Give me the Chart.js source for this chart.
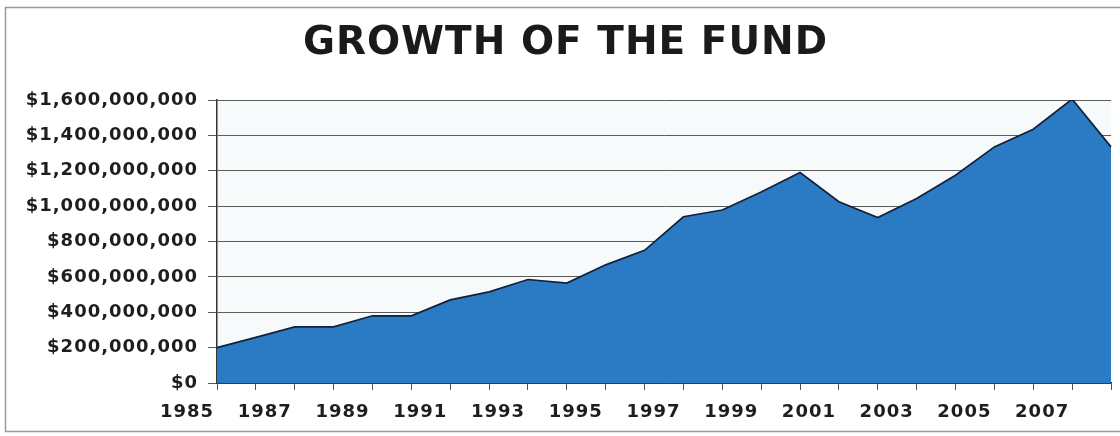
<!DOCTYPE html>
<html>
<head>
<meta charset="utf-8">
<script src="https://cdn.jsdelivr.net/npm/chart.js@4"></script>
<style>
html,body{margin:0;padding:0;background:#fff;}
#wrap{width:1120px;height:436px;position:relative;}
</style>
</head>
<body>
<div id="wrap"><canvas id="c" width="1120" height="436"></canvas></div>
<script>
const years = ['1985','1986','1987','1988','1989','1990','1991','1992','1993','1994','1995','1996','1997','1998','1999','2000','2001','2002','2003','2004','2005','2006','2007','2008'];
const fundValues = [200000000,258000000,317000000,317000000,380000000,380000000,470000000,515000000,585000000,565000000,668000000,750000000,940000000,978000000,1080000000,1190000000,1025000000,935000000,1043000000,1175000000,1335000000,1435000000,1605000000,1335000000];
const yTickMax = 1600000000;
const yTickStep = 200000000;
const titleText = 'GROWTH OF THE FUND';

const framePlugin = {
  id: 'frame',
  beforeLayout(chart) {
    chart.ctx.letterSpacing = '1px';
  },
  beforeDraw(chart) {
    const {ctx, chartArea} = chart;
    ctx.letterSpacing = '1px';
    ctx.save();
    ctx.fillStyle = '#ffffff';
    ctx.fillRect(0, 0, chart.width, chart.height);
    ctx.fillStyle = '#f7fafb';
    ctx.fillRect(chartArea.left, chartArea.top, chartArea.right - chartArea.left, chartArea.bottom - chartArea.top);
    ctx.strokeStyle = '#9a9a9a';
    ctx.lineWidth = 1.5;
    ctx.strokeRect(5.5, 7.5, chart.width - 4, chart.height - 12);
    ctx.restore();
  }
};

new Chart(document.getElementById('c'), {
  type: 'line',
  data: {
    labels: years,
    datasets: [{
      label: 'Fund',
      data: fundValues,
      fill: 'origin',
      backgroundColor: '#2a7bc3',
      borderColor: '#13203a',
      borderWidth: 1.7,
      pointRadius: 0,
      tension: 0
    }]
  },
  plugins: [framePlugin],
  options: {
    responsive: false,
    animation: false,
    devicePixelRatio: 1,
    layout: { padding: { left: 20, right: 9, top: 0, bottom: 10 } },
    plugins: {
      legend: { display: false },
      tooltip: { enabled: false },
      title: {
        display: true,
        text: titleText,
        color: '#1a1a1a',
        font: { family: 'DejaVu Sans', weight: 'bold', size: 39, lineHeight: 1.0 },
        padding: { top: 24, bottom: 37 }
      }
    },
    scales: {
      x: {
        type: 'category',
        offset: false,
        grid: { display: true, drawOnChartArea: false, drawTicks: true, tickLength: 7, color: '#555', lineWidth: 1 },
        border: { display: true, color: '#1a1a1a', width: 1.5 },
        ticks: {
          autoSkip: false,
          maxRotation: 0,
          minRotation: 0,
          labelOffset: -30,
          padding: 12,
          color: '#1e1e1e',
          font: { family: 'DejaVu Sans', weight: 'bold', size: 18 },
          callback: function(v, i) { return (i % 2 === 0 && i < years.length - 1) ? years[i] : ''; }
        },
        afterFit(scale) { scale.height = 43; scale.paddingLeft = 0; scale.paddingRight = 0; }
      },
      y: {
        min: 0,
        max: yTickMax,
        grid: { color: '#5a5a5a', lineWidth: 1, tickLength: 9, drawTicks: true },
        border: { display: true, color: '#333', width: 1.5 },
        ticks: {
          stepSize: yTickStep,
          padding: 10,
          color: '#1e1e1e',
          font: { family: 'DejaVu Sans', weight: 'bold', size: 18 },
          callback: function(v) { return '$' + Number(v).toLocaleString('en-US'); }
        },
        afterFit(scale) { scale.width = 197; }
      }
    }
  }
});
</script>
</body>
</html>
